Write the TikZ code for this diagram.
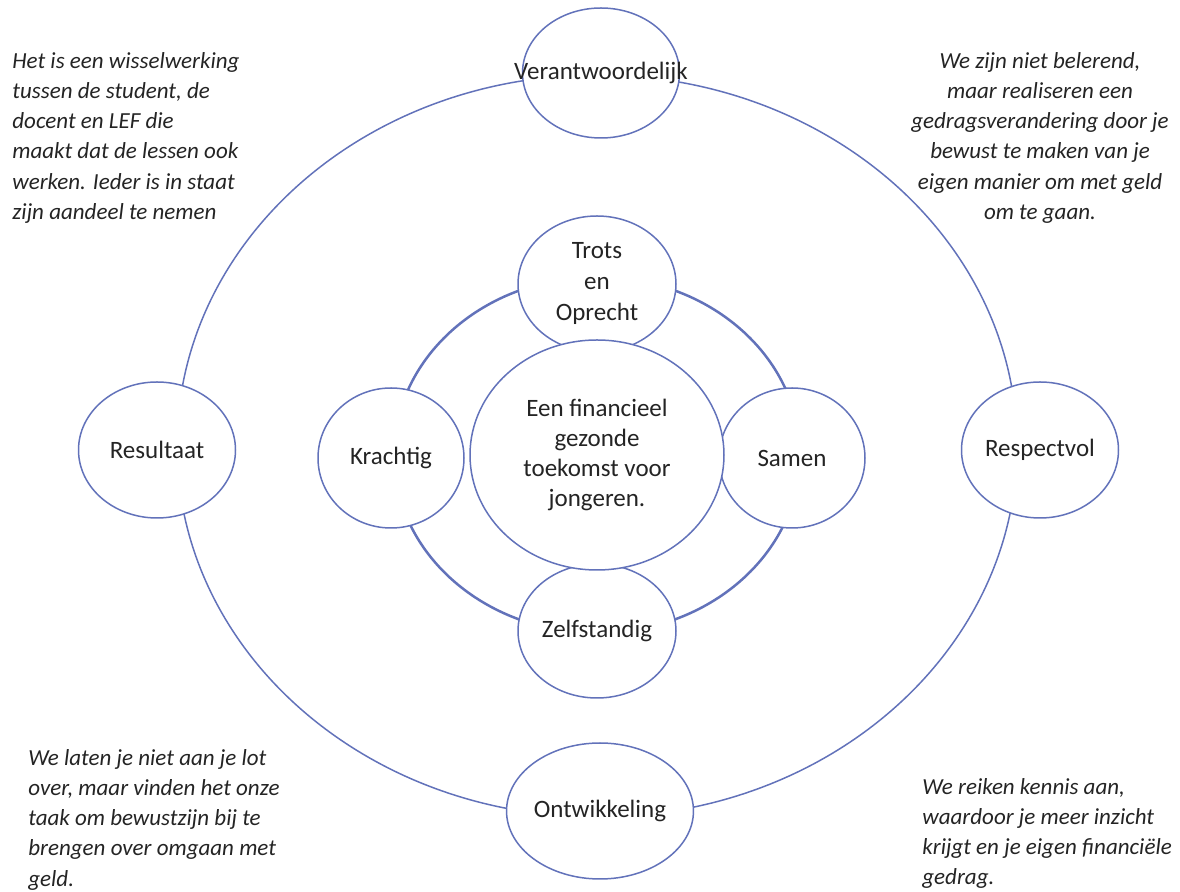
\documentclass[tikz,border=0pt]{standalone}
\usepackage{fontspec}
\setmainfont{Carlito}
\usetikzlibrary{shapes.geometric}
\definecolor{ringblauw}{RGB}{98,114,186}
\definecolor{tekstgrijs}{RGB}{36,36,36}

\begin{document}
\begin{tikzpicture}[x=0.5pt,y=-0.5pt]
    \tikzstyle{waarde} = [ellipse, draw=ringblauw, line width=0.75pt, fill=white, inner sep=0pt, minimum width=78.5pt, minimum height=68pt, text=tekstgrijs, align=center, font=\fontsize{12.5}{15}\selectfont]
    \tikzstyle{uitleg} = [inner sep=0pt, text=tekstgrijs, font=\itshape\fontsize{11.5}{15.1}\selectfont]
    \useasboundingbox (0,0) rectangle (1180,892);
    \coordinate (buiten) at (597,446);
    \coordinate (binnen) at (597,455);
    % de twee ringen
    \draw[ringblauw, line width=0.75pt] (buiten) ellipse [x radius=210pt, y radius=185.5pt];
    \draw[ringblauw, line width=1.25pt] (binnen) ellipse [x radius=101.5pt, y radius=89pt];
    % buitenste waarden
    \node[waarde, minimum height=65pt](VER) at (601,73) {\makebox[0pt]{\raisebox{2pt}{Verantwoordelijk}}};
    \node[waarde](RES) at (157,450) {Resultaat};
    \node[waarde](RSP) at (1040,450) {Respectvol};
    \node[waarde](ONT) at (600,811) {Ontwikkeling};
    % binnenste waarden
    \node[waarde, minimum width=79pt, font=\fontsize{12.5}{15.5}\selectfont](TRO) at (597,284) {Trots\\en\\Oprecht};
    \node[waarde, minimum width=73pt, minimum height=70pt](KRA) at (391,458) {Krachtig};
    \node[waarde, minimum width=73pt, minimum height=70pt](SAM) at (792,458) {Samen};
    \node[waarde, minimum width=79pt, minimum height=67pt](ZEL) at (597,631) {Zelfstandig};
    \node[waarde, minimum width=127pt, minimum height=115pt](DOEL) at (binnen) {Een financieel\\gezonde\\toekomst voor\\jongeren.};
    % toelichtingen
    \node[uitleg, anchor=north west, align=left](TLB) at (12,52) {Het is een wisselwerking\\tussen de student, de\\docent en LEF die\\maakt dat de lessen ook\\werken. Ieder is in staat\\zijn aandeel te nemen};
    \node[uitleg, anchor=north, align=center](TRB) at (1040,52) {We zijn niet belerend,\\maar realiseren een\\gedragsverandering door je\\bewust te maken van je\\eigen manier om met geld\\om te gaan.};
    \node[uitleg, anchor=north west, align=left](TLO) at (28,749) {We laten je niet aan je lot\\over, maar vinden het onze\\taak om bewustzijn bij te\\brengen over omgaan met\\geld.};
    \node[uitleg, anchor=north west, align=left](TRO2) at (922,778) {We reiken kennis aan,\\waardoor je meer inzicht\\krijgt en je eigen financiële\\gedrag.};
\end{tikzpicture}
\end{document}
